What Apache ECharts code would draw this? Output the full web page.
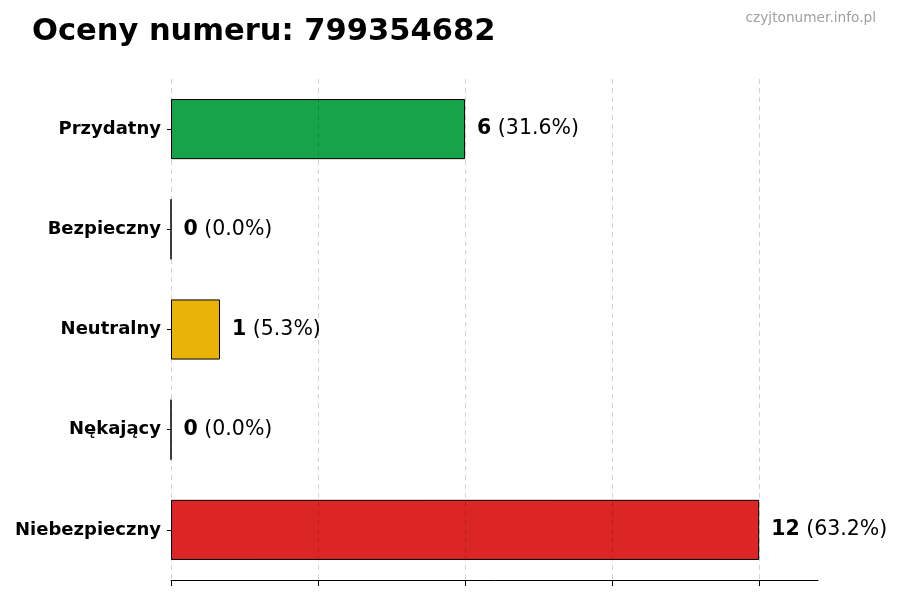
<!DOCTYPE html>
<html lang="pl">
<head>
	<meta charset="UTF-8">
	<title>Oceny numeru</title>
	<style>
		*{margin: 0; padding: 0; box-sizing: border-box;}
		body{background: #fff;}
		#view{width: 900px; height: 600px;}
	</style>
</head>
<body>
	<div id="view"></div>
	<script src="https://cdn.jsdelivr.net/npm/echarts@6/dist/echarts.min.js"></script>
	<script>
  // dane z wykresu (od góry do dołu)
  const categories = ["Przydatny", "Bezpieczny", "Neutralny", "Nękający", "Niebezpieczny"];
  const counts = [6, 0, 1, 0, 12];
  const percents = ["31.6", "0.0", "5.3", "0.0", "63.2"];
  const colors = ["#16a34a", "#16a34a", "#eab308", "#6b7280", "#dc2626"];
  const xTicks = [0, 3, 6, 9, 12];

  const font = "DejaVu Sans";

  let option = {
    animation: false,
    title: [{
      text: "Oceny numeru: 799354682",
      left: 27, top: 12,
      textStyle: {fontFamily: font, fontSize: 30.5, fontWeight: "bold", color: "#000"}
    }, {
      text: "czyjtonumer.info.pl",
      right: 19, top: 6,
      textStyle: {fontFamily: font, fontSize: 13.7, fontWeight: "normal", color: "#a0a0a0"}
    }],
    grid: {left: 171, right: 82, top: 79, bottom: 20, containLabel: false},
    xAxis: {
      type: 'value',
      min: xTicks[0],
      max: 13.2,
      interval: 3,
      axisLine: {show: true, onZero: false, lineStyle: {color: "#000", width: 1}},
      axisTick: {show: true, length: 6, customValues: xTicks, lineStyle: {color: "#000"}},
      axisLabel: {show: false},
      splitLine: {show: false}
    },
    yAxis: {
      type: 'category',
      inverse: true,
      data: categories,
      axisLine: {show: false},
      axisTick: {show: true, length: 4, alignWithLabel: true, lineStyle: {color: "#000"}},
      axisLabel: {fontFamily: font, fontSize: 18, fontWeight: "bold", color: "#000", margin: 10}
    },
    series: [{
      type: 'bar',
      barWidth: '60%',
      data: counts.map(function (v, i) {
        return {value: v, itemStyle: {color: colors[i]}};
      }),
      itemStyle: {borderColor: "#000", borderWidth: 1},
      label: {
        show: true,
        position: 'right',
        distance: 12,
        formatter: function (p) {
          return "{b|" + counts[p.dataIndex] + "}{s| }{n|(" + percents[p.dataIndex] + "%)}";
        },
        rich: {
          b: {fontFamily: font, fontSize: 20.5, fontWeight: "bold", color: "#000"},
          s: {fontFamily: font, fontSize: 20.5, color: "#000"},
          n: {fontFamily: font, fontSize: 20.5, color: "#000"}
        }
      },
      markLine: {
        silent: true,
        symbol: 'none',
        label: {show: false},
        lineStyle: {type: [5, 4], color: "rgba(0,0,0,0.17)", width: 1},
        data: xTicks.map(function (t) { return {xAxis: t}; })
      }
    }]
  };
  var myChart = echarts.init(document.getElementById('view'));
  myChart.setOption(option);
	</script>
</body>
</html>
